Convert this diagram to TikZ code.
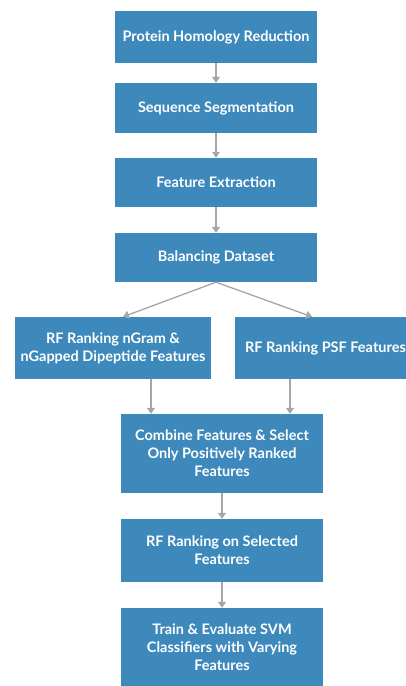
\documentclass[tikz,border=0pt]{standalone}
\usepackage{fontspec}
\setmainfont{Lato}
\usetikzlibrary{arrows.meta}
\definecolor{boxblue}{RGB}{61,137,188}
\definecolor{arrowgray}{RGB}{166,166,166}
\begin{document}
\begin{tikzpicture}[x=1pt,y=-1pt,
  boxfont/.style={font=\bfseries\fontsize{14.5}{18}\selectfont},
  box/.style={fill=boxblue, draw=none, text=white, boxfont, align=center, inner sep=0pt},
  conn/.style={draw=arrowgray, line width=1.3pt, -{Triangle[width=8pt,length=6pt]}}]
\useasboundingbox (0,0) rectangle (406,686);
% boxes
\node[box, minimum width=202pt, minimum height=52pt] (b1) at (216,37) {Protein Homology Reduction};
\node[box, minimum width=202pt, minimum height=50pt] (b2) at (216,108) {Sequence Segmentation};
\node[box, minimum width=202pt, minimum height=49pt] (b3) at (216,182.5) {Feature Extraction};
\node[box, minimum width=202pt, minimum height=49pt] (b4) at (216,257.5) {Balancing Dataset};
\node[box, minimum width=196pt, minimum height=62pt] (b5) at (113,348) {RF Ranking nGram \&\\nGapped Dipeptide Features};
\node[box, minimum width=171pt, minimum height=62pt] (b6) at (320.5,348) {};
\node[text=white, boxfont, inner sep=0pt] (b6t) at (325.5,348) {RF Ranking PSF Features};
\node[box, minimum width=202pt, minimum height=79pt] (b7) at (222,453.5) {Combine Features \& Select\\Only Positively Ranked\\Features};
\node[box, minimum width=202pt, minimum height=63pt] (b8) at (222,550.5) {RF Ranking on Selected\\Features};
\node[box, minimum width=202pt, minimum height=78pt] (b9) at (222,647) {Train \& Evaluate SVM\\Classifiers with Varying\\Features};
% helper coordinates
\coordinate (xl) at (123,0);
\coordinate (xr) at (312,0);
\coordinate (x5) at (151,0);
\coordinate (x6) at (290,0);
% connectors
\draw[conn] (b1.south) -- (b2.north);
\draw[conn] (b2.south) -- (b3.north);
\draw[conn] (b3.south) -- (b4.north);
\draw[conn] (b4.south) -- (b5.north -| xl);
\draw[conn] (b4.south) -- (b6.north -| xr);
\draw[conn] (b5.south -| x5) -- (b7.north -| x5);
\draw[conn] (b6.south -| x6) -- (b7.north -| x6);
\draw[conn] (b7.south) -- (b8.north);
\draw[conn] (b8.south) -- (b9.north);
\end{tikzpicture}
\end{document}
